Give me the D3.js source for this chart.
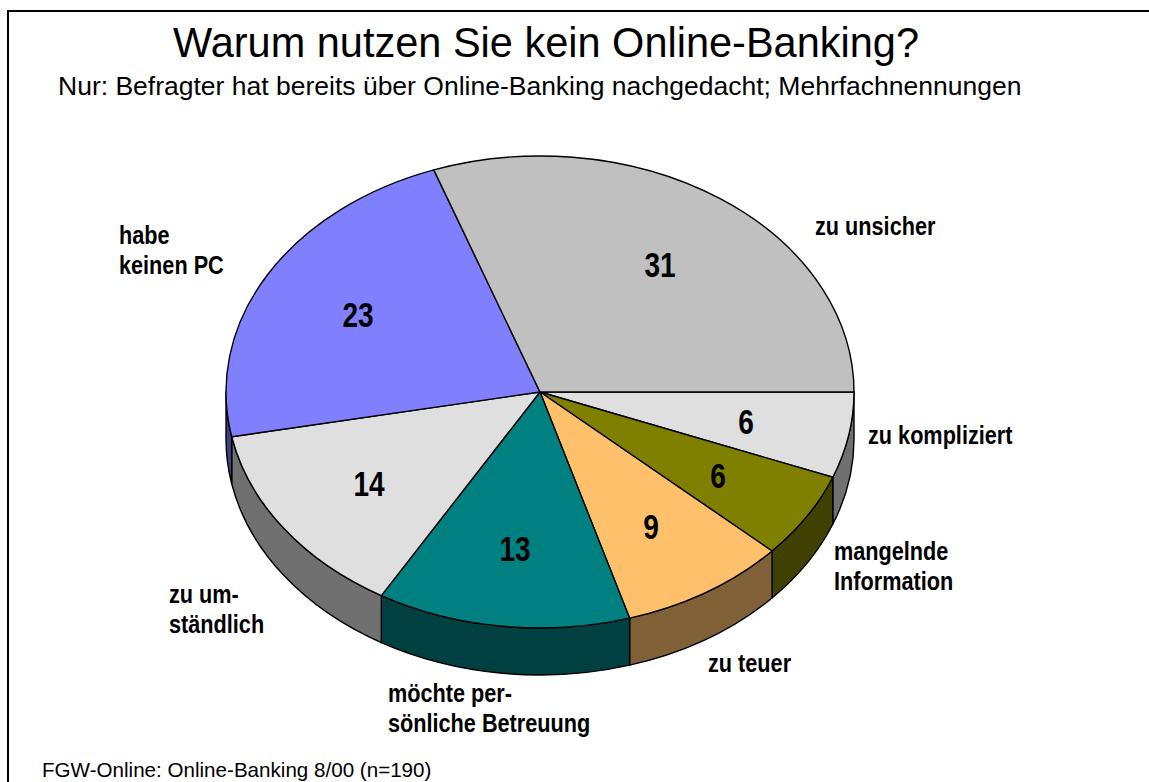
<!DOCTYPE html>
<html><head><meta charset="utf-8">
<script src="https://cdn.jsdelivr.net/npm/d3@7"></script>
<style>html,body{margin:0;padding:0;background:#fff;overflow:hidden}svg{display:block}</style>
</head><body><svg id="c" width="1149" height="782"></svg>
<script>
const categories = ["zu kompliziert","mangelnde Information","zu teuer","möchte persönliche Betreuung","zu umständlich","habe keinen PC","zu unsicher"];
const values = [6.0,6.0,8.8,13.3,13.8,23.0,31.1];
const topColors = ["#DFDFDF","#808000","#FFC06C","#008080","#DFDFDF","#8080FF","#C0C0C0"];
const sideColors = ["#707070","#404000","#806036","#004040","#707070","#404080","#606060"];
const labelLines = [["zu kompliziert"],["mangelnde","Information"],["zu teuer"],["möchte per-","sönliche Betreuung"],["zu um-","ständlich"],["habe","keinen PC"],["zu unsicher"]];
const labelAnchors = [[868,444],[834,560],[708,672],[388,702],[169,603],[119,244],[815,235]];
const valueAnchors = [[746,434],[718,488],[651,539],[515,561],[369,496],[358,327],[660,277]];

const W=1149,H=782,cx=540,cy=392,rx=314,ry=236,depth=47;
const svg=d3.select("#c");
const SANS="'Liberation Sans',Arial,sans-serif";

svg.append("path").attr("d",`M8 782V11H${W}`).attr("fill","none").attr("stroke","#000").attr("stroke-width",2);

svg.append("text").attr("x",173).attr("y",57).attr("font-family",SANS).attr("font-size",42.5).attr("textLength",746).attr("lengthAdjust","spacingAndGlyphs").text("Warum nutzen Sie kein Online-Banking?");
svg.append("text").attr("x",58).attr("y",95).attr("font-family",SANS).attr("font-size",26.5).text("Nur: Befragter hat bereits über Online-Banking nachgedacht; Mehrfachnennungen");
svg.append("text").attr("x",42).attr("y",777).attr("font-family",SANS).attr("font-size",20.6).text("FGW-Online: Online-Banking 8/00 (n=190)");

const pie=d3.pie().sort(null).startAngle(Math.PI/2).endAngle(Math.PI/2+2*Math.PI);
const arcs=pie(values);
const px=a=>cx+rx*Math.sin(a), py=a=>cy-ry*Math.cos(a);

// side walls (only the front half of the disc is visible)
const sides=arcs.map((d,i)=>({a0:Math.max(d.startAngle,Math.PI/2),a1:Math.min(d.endAngle,3*Math.PI/2),i})).filter(s=>s.a1>s.a0);
svg.append("g").selectAll("path").data(sides).join("path")
  .attr("d",s=>`M${px(s.a0)} ${py(s.a0)}A${rx} ${ry} 0 0 1 ${px(s.a1)} ${py(s.a1)}`+
           `L${px(s.a1)} ${py(s.a1)+depth}A${rx} ${ry} 0 0 0 ${px(s.a0)} ${py(s.a0)+depth}Z`)
  .attr("fill",s=>sideColors[s.i]).attr("stroke","#000").attr("stroke-width",1.4).attr("stroke-linejoin","round");

// top face
const arc=d3.arc().innerRadius(0).outerRadius(rx);
svg.append("g").attr("transform",`translate(${cx},${cy}) scale(1,${ry/rx})`)
  .selectAll("path").data(arcs).join("path")
  .attr("d",arc).attr("fill",(d,i)=>topColors[i])
  .attr("stroke","#000").attr("stroke-width",1.4).attr("vector-effect","non-scaling-stroke").attr("stroke-linejoin","round");

// value labels (narrow bold look: condensed horizontally)
svg.append("g").selectAll("text").data(values).join("text")
  .attr("transform",(d,i)=>`translate(${valueAnchors[i][0]},${valueAnchors[i][1]}) scale(0.8,1)`)
  .attr("text-anchor","middle").attr("font-family",SANS).attr("font-weight","bold").attr("font-size",35)
  .text(d=>d3.format(".0f")(d));

// category labels
labelLines.forEach((lines,i)=>{
  svg.append("g").selectAll("text").data(lines).join("text")
    .attr("transform",(d,j)=>`translate(${labelAnchors[i][0]},${labelAnchors[i][1]+j*30}) scale(0.85,1)`)
    .attr("font-family",SANS).attr("font-weight","bold").attr("font-size",25.5).attr("fill","#000")
    .text(d=>d);
});
</script></body></html>
